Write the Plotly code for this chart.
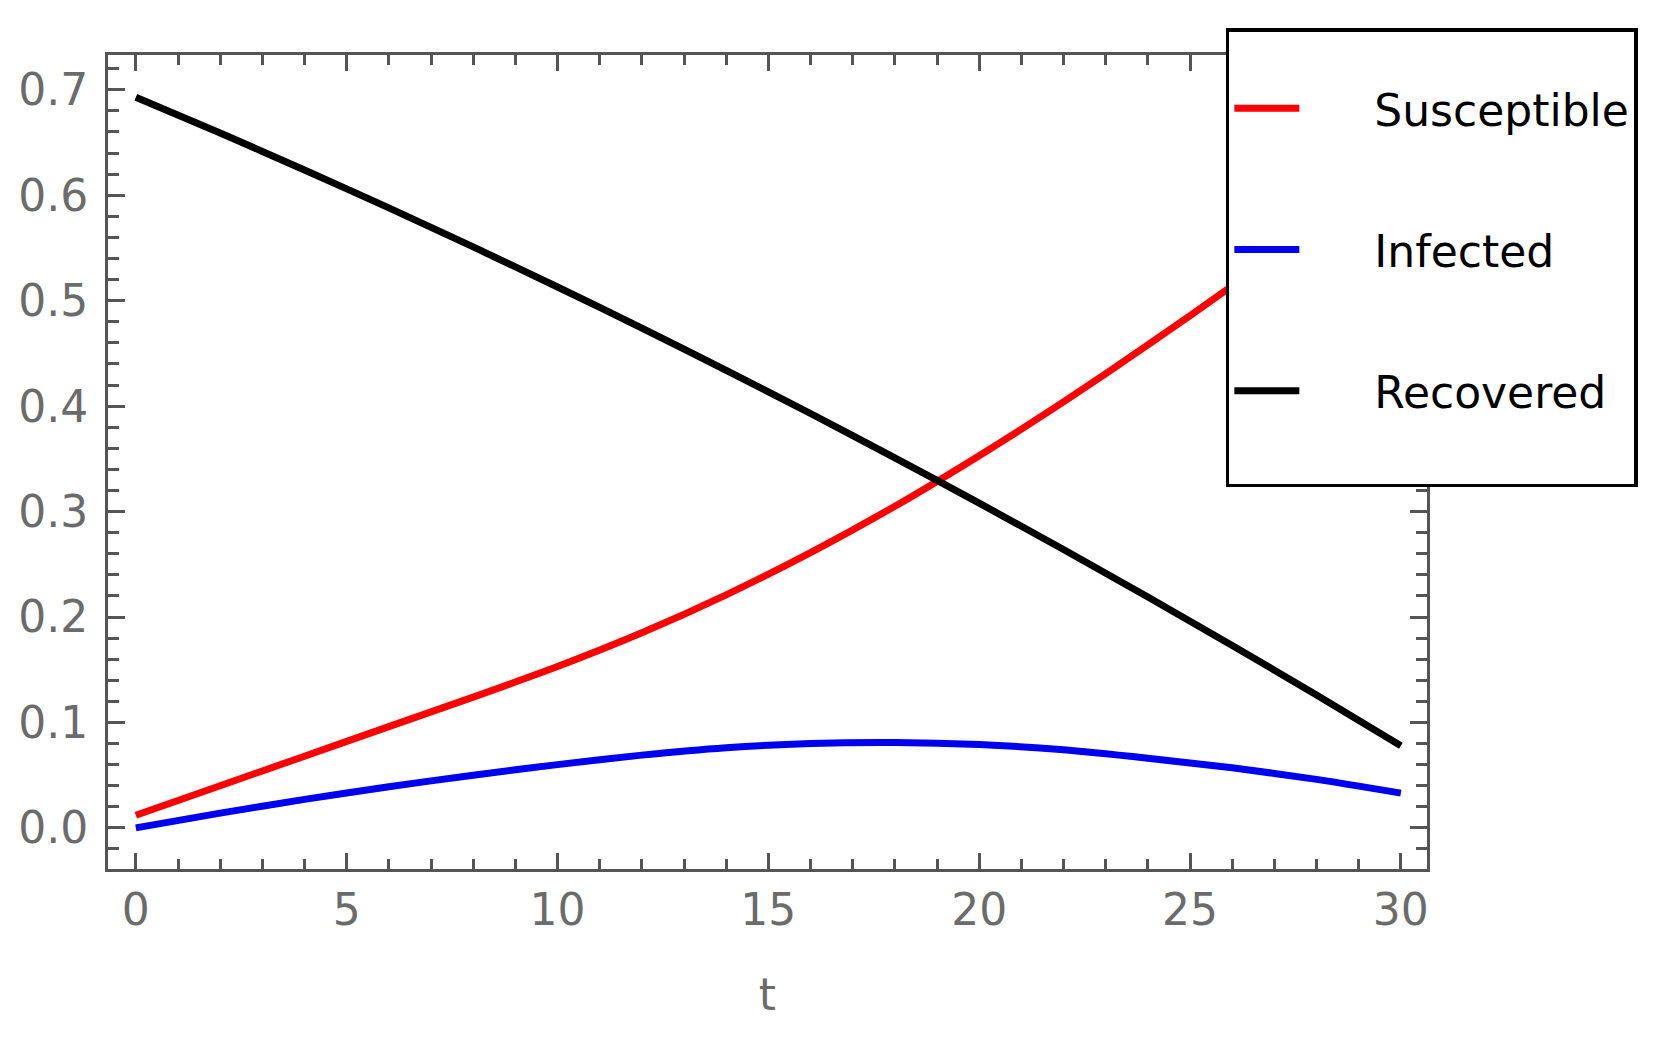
import plotly.graph_objects as go

t = [0, 2, 4, 6, 8, 10, 12, 14, 16, 18, 20, 22, 24, 26, 28, 30]
susceptible = [0.012, 0.040, 0.068, 0.096, 0.124, 0.153, 0.185, 0.221, 0.261, 0.305,
               0.353, 0.404, 0.458, 0.514, 0.572, 0.632]
infected = [0.000, 0.014, 0.027, 0.039, 0.050, 0.060, 0.069, 0.076, 0.080, 0.081,
            0.079, 0.074, 0.066, 0.057, 0.046, 0.033]
recovered = [0.693, 0.659, 0.624, 0.588, 0.551, 0.513, 0.474, 0.434, 0.393, 0.351,
             0.308, 0.264, 0.219, 0.173, 0.126, 0.078]

names = ["Susceptible", "Infected", "Recovered"]
colors = ["#ff0000", "#0000f0", "#000000"]
series = [susceptible, infected, recovered]

FONT = "DejaVu Sans"
PAD = "\u00a0" * 5
fig = go.Figure()
for i, (name, col, ys) in enumerate(zip(names, colors, series)):
    label = PAD + name
    if i == len(names) - 1:
        label += "<br>\u00a0"
    fig.add_trace(go.Scatter(
        x=t, y=ys, mode="lines", name=label,
        legendgroup=name,
        line=dict(color=col, width=7, shape="spline", smoothing=0.6),
    ))

axis_common = dict(
    showline=True, linecolor="#555555", linewidth=3, mirror="allticks",
    ticks="inside", tickcolor="#555555", tickwidth=2.5,
    showgrid=False, zeroline=False,
    tickfont=dict(family=FONT, size=44, color="#6b6b6b"),
)

fig.update_layout(
    width=1653, height=1033,
    margin=dict(l=100, r=234, t=47, b=172, autoexpand=False),
    paper_bgcolor="white", plot_bgcolor="white",
    xaxis=dict(range=[-0.66, 30.62], tick0=0, dtick=5, ticklen=16,
               minor=dict(dtick=1, ticklen=10, tickwidth=2.5, ticks="inside", tickcolor="#555555"),
               ticklabelstandoff=0,
               title=dict(text="t", font=dict(family=FONT, size=44, color="#6b6b6b"), standoff=46),
               **axis_common),
    yaxis=dict(range=[-0.039, 0.733], tick0=0, dtick=0.1, ticklen=17, tickformat=".1f",
               minor=dict(dtick=0.02, ticklen=11, tickwidth=2.5, ticks="inside", tickcolor="#555555"),
               ticklabelstandoff=8,
               **axis_common),
    showlegend=True,
    legend=dict(
        x=0.8475, y=1.033, xanchor="left", yanchor="top",
        bgcolor="white", bordercolor="black", borderwidth=3.5,
        font=dict(family=FONT, size=44, color="black"),
        itemwidth=65, tracegroupgap=81, valign="top",
        title=dict(text="\u00a0", font=dict(size=32)),
    ),
)

fig.write_html("out.html")
